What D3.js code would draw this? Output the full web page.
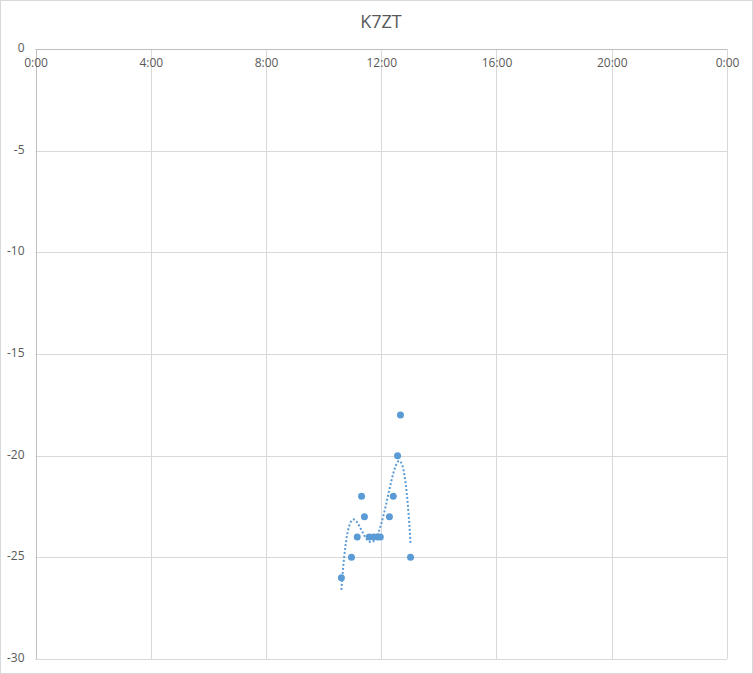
<!DOCTYPE html>
<html>
<head>
<meta charset="utf-8">
<script src="https://cdn.jsdelivr.net/npm/d3@7"></script>
<style>
  body { margin: 0; background: #fff; }
  text { font-family: "Open Sans", "Liberation Sans", sans-serif; fill: #595959; }
</style>
</head>
<body>
<div id="chart"></div>
<script>
// data
var title = "K7ZT";
var times = ["10:37","10:58","11:10","11:19","11:25","11:35","11:44","11:52","11:58","12:17","12:25","12:34","12:40","13:01"];
var snr = [-26,-25,-24,-22,-23,-24,-24,-24,-24,-23,-22,-20,-18,-25];
var xTicks = [0,4,8,12,16,20,24];
var xTickLabels = ["0:00","4:00","8:00","12:00","16:00","20:00","0:00"];
var yTicks = [0,-5,-10,-15,-20,-25,-30];
var trendOrder = 4;

var W = 753, H = 674;
var margin = {top: 49, right: 26, bottom: 15, left: 35.5};

var svg = d3.select("#chart").append("svg")
  .attr("width", W)
  .attr("height", H);

// outer frame
svg.append("rect")
  .attr("x", 0.5).attr("y", 0.5)
  .attr("width", W - 1).attr("height", H - 1)
  .attr("fill", "#fff")
  .attr("stroke", "#d9d9d9");

var x = d3.scaleLinear().domain([0, 24]).range([margin.left, W - margin.right]);
var y = d3.scaleLinear().domain([-30, 0]).range([H - margin.bottom, margin.top]);

var hours = times.map(function(t) {
  var p = t.split(":");
  return +p[0] + (+p[1]) / 60;
});
var data = hours.map(function(h, i) { return {h: h, v: snr[i]}; });

// gridlines
svg.append("g").selectAll("line.vg")
  .data(xTicks.slice(1)).enter().append("line")
  .attr("x1", function(d) { return Math.round(x(d)) + 0.5; })
  .attr("x2", function(d) { return Math.round(x(d)) + 0.5; })
  .attr("y1", y(0)).attr("y2", y(-30))
  .attr("stroke", "#d9d9d9");

svg.append("g").selectAll("line.hg")
  .data(yTicks.slice(1)).enter().append("line")
  .attr("y1", function(d) { return Math.round(y(d)) + 0.5; })
  .attr("y2", function(d) { return Math.round(y(d)) + 0.5; })
  .attr("x1", x(0)).attr("x2", x(24))
  .attr("stroke", "#d9d9d9");

// axis lines
svg.append("line")
  .attr("x1", x(0)).attr("x2", x(24))
  .attr("y1", Math.round(y(0)) + 0.5).attr("y2", Math.round(y(0)) + 0.5)
  .attr("stroke", "#bfbfbf");
svg.append("line")
  .attr("x1", Math.round(x(0)) + 0.5).attr("x2", Math.round(x(0)) + 0.5)
  .attr("y1", y(0)).attr("y2", y(-30))
  .attr("stroke", "#bfbfbf");

// x axis labels (under the top axis line)
var xAxis = d3.axisBottom(x)
  .tickValues(xTicks)
  .tickSize(0)
  .tickPadding(9)
  .tickFormat(function(d, i) { return xTickLabels[i]; });
svg.append("g")
  .attr("transform", "translate(0," + y(0) + ")")
  .call(xAxis)
  .call(function(g) { g.select(".domain").remove(); })
  .selectAll("text")
    .attr("font-size", 12)
    .style("font-family", "'Open Sans', 'Liberation Sans', sans-serif")
    .attr("fill", "#595959");

// y axis labels (plain hyphen like Excel)
var yAxis = d3.axisLeft(y)
  .tickValues(yTicks)
  .tickSize(0)
  .tickPadding(11)
  .tickFormat(function(d) { return String(d); });
svg.append("g")
  .attr("transform", "translate(" + x(0) + ",0)")
  .call(yAxis)
  .call(function(g) { g.select(".domain").remove(); })
  .selectAll("text")
    .attr("font-size", 12)
    .attr("dy", "0.2em")
    .style("font-family", "'Open Sans', 'Liberation Sans', sans-serif")
    .attr("fill", "#595959");

// title
svg.append("text")
  .attr("x", 381)
  .attr("y", 28)
  .attr("text-anchor", "middle")
  .attr("font-size", 18)
  .text(title);

// polynomial trendline (least squares, like Excel's)
function polyFit(xs, ys, order) {
  var mean = d3.mean(xs);
  var n = order + 1;
  var A = [], b = [];
  for (var r = 0; r < n; r++) {
    A.push(new Array(n).fill(0));
    b.push(0);
  }
  xs.forEach(function(xv, i) {
    var t = xv - mean;
    for (var r = 0; r < n; r++) {
      for (var c = 0; c < n; c++) A[r][c] += Math.pow(t, r + c);
      b[r] += ys[i] * Math.pow(t, r);
    }
  });
  // gaussian elimination
  for (var k = 0; k < n; k++) {
    var p = k;
    for (var r2 = k + 1; r2 < n; r2++) if (Math.abs(A[r2][k]) > Math.abs(A[p][k])) p = r2;
    var tmp = A[k]; A[k] = A[p]; A[p] = tmp;
    var tb = b[k]; b[k] = b[p]; b[p] = tb;
    for (var r3 = k + 1; r3 < n; r3++) {
      var f = A[r3][k] / A[k][k];
      for (var c2 = k; c2 < n; c2++) A[r3][c2] -= f * A[k][c2];
      b[r3] -= f * b[k];
    }
  }
  var coef = new Array(n).fill(0);
  for (var k2 = n - 1; k2 >= 0; k2--) {
    var s = b[k2];
    for (var c3 = k2 + 1; c3 < n; c3++) s -= A[k2][c3] * coef[c3];
    coef[k2] = s / A[k2][k2];
  }
  return function(xv) {
    var t = xv - mean, s = 0;
    for (var i = 0; i < n; i++) s += coef[i] * Math.pow(t, i);
    return s;
  };
}

var fit = polyFit(hours, snr, trendOrder);
var hMin = d3.min(hours), hMax = d3.max(hours);
var trend = d3.range(0, 201).map(function(i) {
  var h = hMin + (hMax - hMin) * i / 200;
  return {h: h, v: fit(h)};
});

svg.append("path")
  .datum(trend)
  .attr("fill", "none")
  .attr("stroke", "#5b9bd5")
  .attr("stroke-width", 2)
  .attr("stroke-dasharray", "2,2")
  .attr("d", d3.line()
    .x(function(d) { return x(d.h); })
    .y(function(d) { return y(d.v); }));

// points
svg.append("g").selectAll("circle")
  .data(data).enter().append("circle")
  .attr("cx", function(d) { return x(d.h); })
  .attr("cy", function(d) { return y(d.v); })
  .attr("r", 3.5)
  .attr("fill", "#5b9bd5");
</script>
</body>
</html>
